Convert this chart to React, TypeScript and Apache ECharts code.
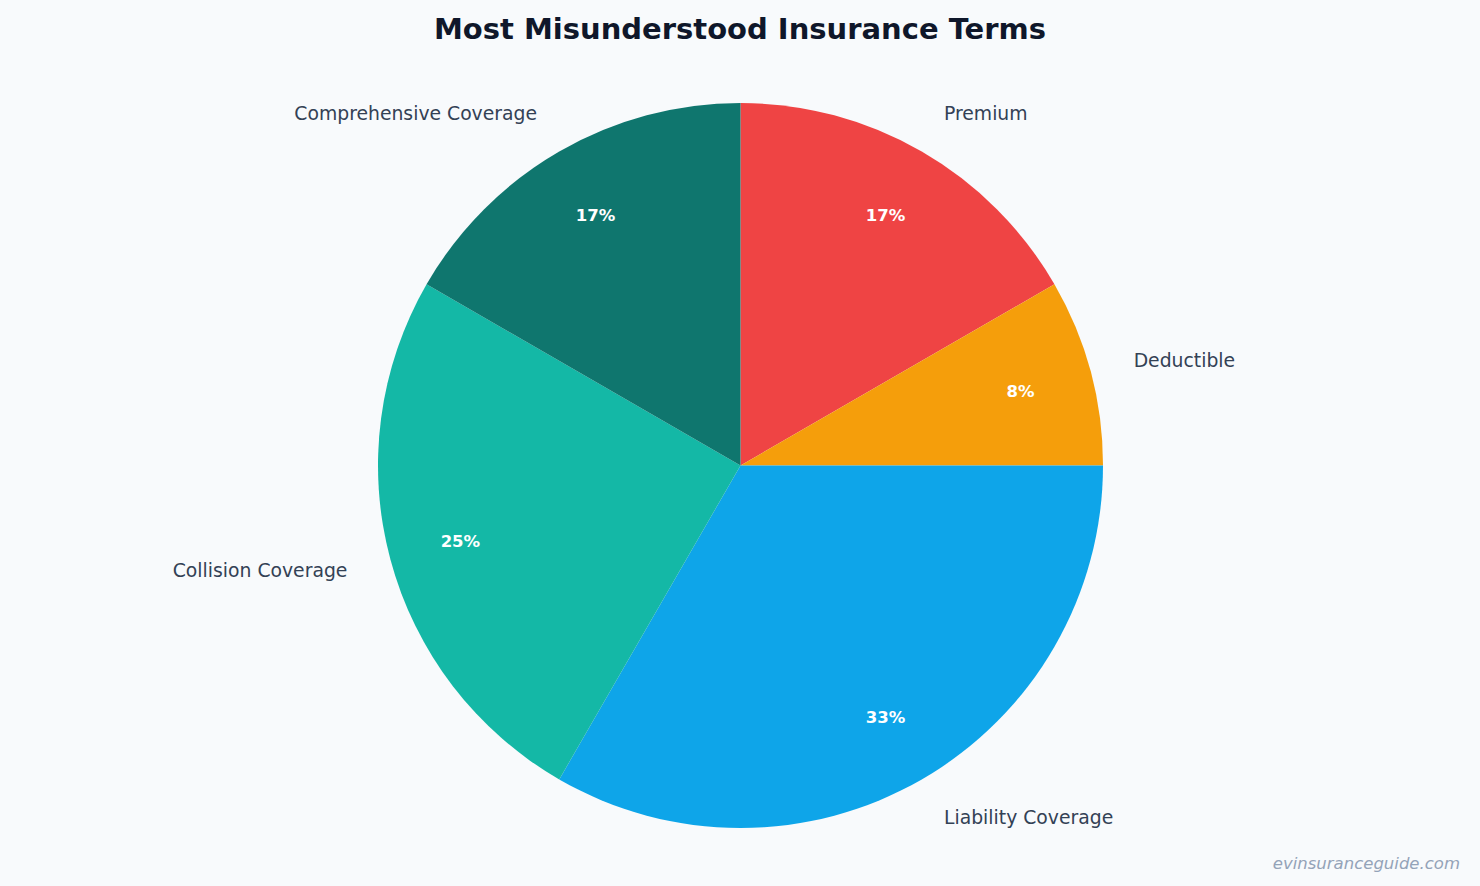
import React, { useEffect, useRef } from "react";
import * as echarts from "echarts";

const categories = ["Premium", "Deductible", "Liability Coverage", "Collision Coverage", "Comprehensive Coverage"];
const values = [2, 1, 4, 3, 2];
const colors = ["#EF4444", "#F59E0B", "#0EA5E9", "#14B8A6", "#0F766E"];
const titleText = "Most Misunderstood Insurance Terms";
const watermark = "evinsuranceguide.com";

export default function App() {
  const ref = useRef<HTMLDivElement>(null);
  useEffect(() => {
    if (!ref.current) return;
    const chart = echarts.init(ref.current, null, { renderer: "svg" });
    const data = categories.map((name, i) => ({ name, value: values[i], itemStyle: { color: colors[i] } }));
    chart.setOption({
      animation: false,
      backgroundColor: "#F8FAFC",
      textStyle: { fontFamily: "DejaVu Sans" },
      title: {
        text: titleText,
        left: "center",
        top: 9,
        textStyle: { fontFamily: "DejaVu Sans", fontSize: 29, fontWeight: "bold", color: "#0F172A" },
      },
      graphic: [
        {
          type: "text",
          right: 20,
          bottom: 14,
          style: { text: watermark, fontFamily: "DejaVu Sans", fontStyle: "italic", fontSize: 16.5, fill: "#94A3B8" },
        },
      ],
      series: [
        {
          type: "pie",
          center: [740.5, 465.5],
          radius: [0, 362.5],
          startAngle: 90,
          clockwise: true,
          avoidLabelOverlap: false,
          data,
          label: {
            show: true,
            position: "outside",
            fontFamily: "DejaVu Sans",
            fontSize: 18.8,
            color: "#334155",
            distanceToLabelLine: 0,
            formatter: "{b}",
          },
          labelLine: { show: false, length: 44.5, length2: 0 },
          emphasis: { disabled: true },
        },
        {
          type: "pie",
          center: [740.5, 466.5],
          radius: [212, 362],
          startAngle: 90,
          clockwise: true,
          silent: true,
          data: categories.map((name, i) => ({ name, value: values[i], itemStyle: { color: "rgba(0,0,0,0)" } })),
          label: {
            show: true,
            position: "inside",
            fontFamily: "DejaVu Sans",
            fontSize: 16.5,
            fontWeight: "bold",
            color: "#FFFFFF",
            formatter: (p: any) => Math.round(p.percent) + "%",
          },
          labelLine: { show: false },
          emphasis: { disabled: true },
        },
      ],
    });
    return () => chart.dispose();
  }, []);
  return <div ref={ref} style={{ position: "absolute", left: 0, top: 0, width: 1480, height: 886 }} />;
}
